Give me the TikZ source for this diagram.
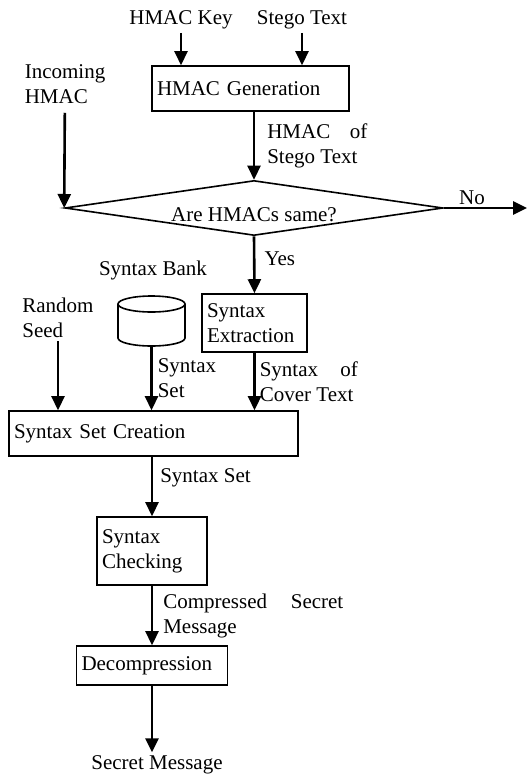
\documentclass[tikz,border=0pt]{standalone}
\usepackage{fontspec}
\setmainfont{Liberation Serif}
\usetikzlibrary{shapes.geometric,arrows.meta}

\tikzset{
  blk/.style={draw,line width=1.6pt,align=left,inner xsep=5pt,inner ysep=0pt},
  arr/.style={->,line width=2.6pt},
  lbl/.style={inner sep=0pt,align=left},
}

\begin{document}
\begin{tikzpicture}[x=1pt,y=-1pt,font=\fontsize{21}{25}\selectfont,>={Triangle[length=14pt,width=13pt]}]
	\useasboundingbox (0,0) rectangle (531,776);
	\node (hkey) at (181,20) {HMAC Key};
	\node (stego) at (302,20) {Stego Text};
	\node[blk,text width=187pt,minimum height=45pt] (hgen) at (250.5,88.5) {HMAC Generation};
	\node[align=left,inner ysep=9pt] (inhmac) at (65,84) {Incoming\\HMAC};
	\node[diamond,draw,line width=1.6pt,aspect=6.9,minimum width=378pt,minimum height=55pt,inner sep=0pt,text height=26pt,text depth=0pt] (cmp) at (254,208) {Are HMACs same?};
	\coordinate (no) at (527,208);
	\node (sbank) at (153,270) {Syntax Bank};
	\node[cylinder,shape border rotate=90,draw,line width=1.6pt,aspect=1,minimum width=67pt,minimum height=50pt,inner sep=8pt] (bank) at (151.5,328) {};
	\node[blk,text width=95pt,minimum height=58pt] (sext) at (254.5,323) {Syntax\\Extraction};
	\node[align=left] (rseed) at (58,318) {Random\\Seed};
	\node[blk,text width=279pt,minimum height=45pt] (ssc) at (153.5,433.5) {Syntax Set Creation};
	\node[blk,text width=100pt,minimum height=68pt] (schk) at (152,551) {Syntax\\Checking};
	\node[blk,text width=141pt,minimum height=39pt] (dec) at (152,665.5) {Decompression};
	\node (smsg) at (157,765) {Secret Message};
	% arrows
	\draw[arr] (hkey) -- (hkey |- hgen.north);
	\draw[arr] (stego) -- (stego |- hgen.north);
	\draw[arr] (cmp.north |- hgen.south) -- node[lbl,right=12pt,text width=100pt,align=justify] (lhmac) {HMAC of Stego Text} (cmp.north);
	\draw[arr] (inhmac) -- (cmp.west);
	\draw[arr] (cmp.east) -- node[lbl,pos=0,anchor=south west,xshift=14pt,yshift=2pt] (lno) {No} (no);
	\draw[arr] (cmp.south) -- node[lbl,right=9pt,pos=0.4] (lyes) {Yes} (sext.north);
	\draw[arr] (rseed) -- (rseed |- ssc.north);
	\draw[arr] (bank) -- node[lbl,right=5pt] (lset) {Syntax\\Set} (bank |- ssc.north);
	\draw[arr] (sext) -- node[lbl,right=4pt,text width=98pt,align=justify] (lcover) {Syntax of Cover Text} (sext |- ssc.north);
	\draw[arr] (schk.north |- ssc.south) -- node[lbl,right=7pt,pos=0.35] (lset2) {Syntax Set} (schk.north);
	\draw[arr] (schk) -- node[lbl,right=10pt,text width=180pt,align=justify] (lcomp) {Compressed Secret Message} (dec);
	\draw[arr] (dec) -- (dec |- smsg.north);
\end{tikzpicture}
\end{document}
